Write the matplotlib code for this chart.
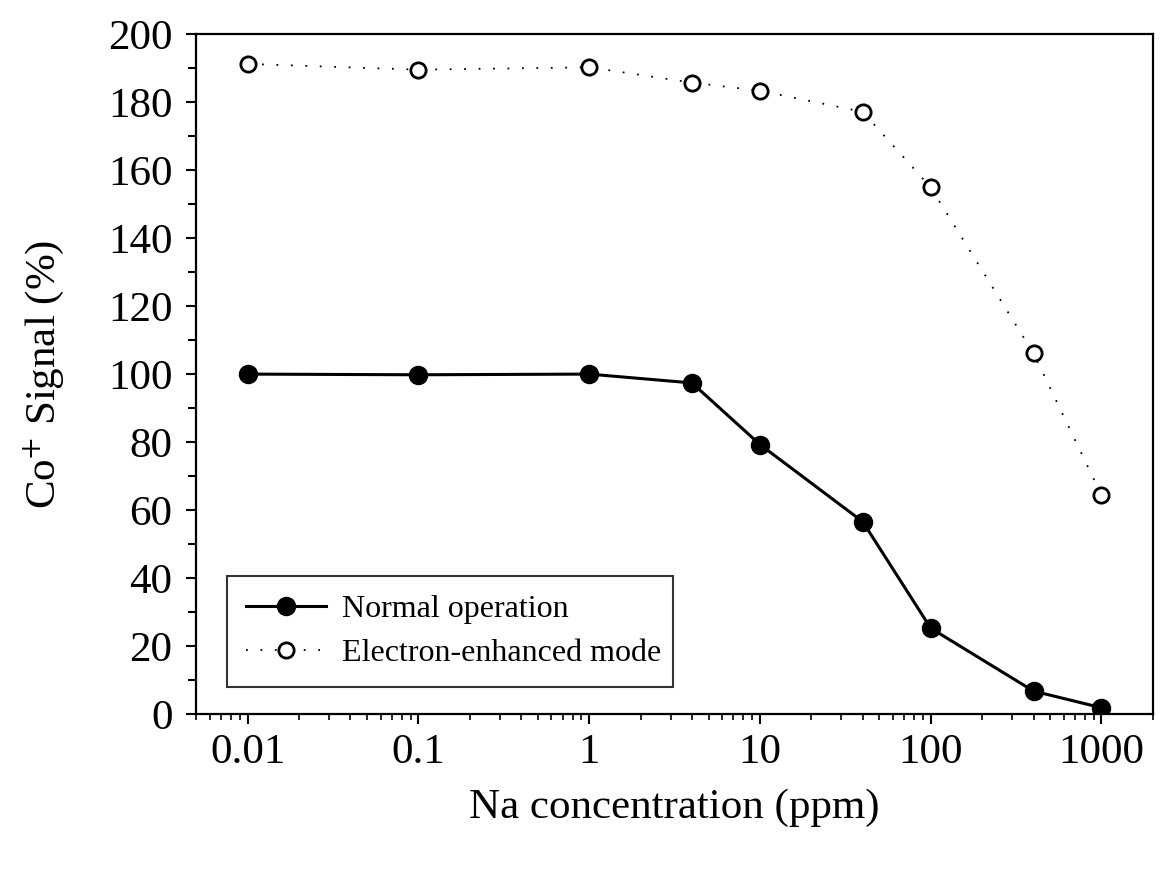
import matplotlib
matplotlib.use("Agg")
import matplotlib.pyplot as plt
from matplotlib.ticker import LogLocator, MultipleLocator, FixedLocator, FixedFormatter

# data
na_ppm = [0.01, 0.1, 1, 4, 10, 40, 100, 400, 1000]
normal = [100.0, 99.8, 100.0, 97.4, 79.3, 56.6, 25.3, 6.8, 1.9]
enhanced = [191.2, 189.5, 190.2, 185.7, 183.3, 177.1, 154.9, 106.1, 64.4]
xtick_vals = [0.01, 0.1, 1, 10, 100, 1000]
xtick_labels = ["0.01", "0.1", "1", "10", "100", "1000"]

plt.rcParams["font.family"] = ["Liberation Serif", "DejaVu Serif"]
plt.rcParams["mathtext.fontset"] = "stix"

fig = plt.figure(figsize=(11.61, 8.71), dpi=100)
ax = fig.add_axes([0.169, 0.180, 0.824, 0.781])

ax.plot(na_ppm, normal, color="black", lw=2.2, marker="o", ms=13,
        mfc="black", mec="black", label="Normal operation")
ax.plot(na_ppm, enhanced, color="black", lw=1.3, ls=(0, (1, 7)), marker="o",
        ms=11, mfc="white", mec="black", mew=2, label="Electron-enhanced mode")

ax.set_xscale("log")
ax.set_xlim(0.005, 2000)
ax.set_ylim(0, 200)

ax.xaxis.set_major_locator(FixedLocator(xtick_vals))
ax.xaxis.set_major_formatter(FixedFormatter(xtick_labels))
ax.xaxis.set_minor_locator(LogLocator(base=10, subs=range(2, 10)))
ax.yaxis.set_major_locator(MultipleLocator(20))
ax.yaxis.set_minor_locator(MultipleLocator(10))

ax.tick_params(axis="both", which="major", direction="out", width=1.5,
               labelsize=31, length=7, color="black")
ax.tick_params(axis="x", which="minor", direction="out", width=1.2, length=4)
ax.tick_params(axis="y", which="minor", direction="out", width=1.5, length=6)
ax.tick_params(axis="x", which="major", pad=7)
ax.tick_params(axis="y", which="major", pad=10)

for s in ax.spines.values():
    s.set_linewidth(1.6)

ax.set_xlabel("Na concentration (ppm)", fontsize=31, labelpad=12)
ax.set_ylabel(r"Co$^{+}$ Signal (%)", fontsize=31, labelpad=30)

leg = ax.legend(loc="lower left", bbox_to_anchor=(0.032, 0.040, 0.466, 0.162),
                mode="expand", fontsize=23, frameon=True, fancybox=False,
                edgecolor="black", handlelength=2.5, handletextpad=0.5,
                borderpad=0.6, labelspacing=0.45, borderaxespad=0)
leg.get_frame().set_linewidth(1.5)

fig.savefig("out.png", dpi=100)
